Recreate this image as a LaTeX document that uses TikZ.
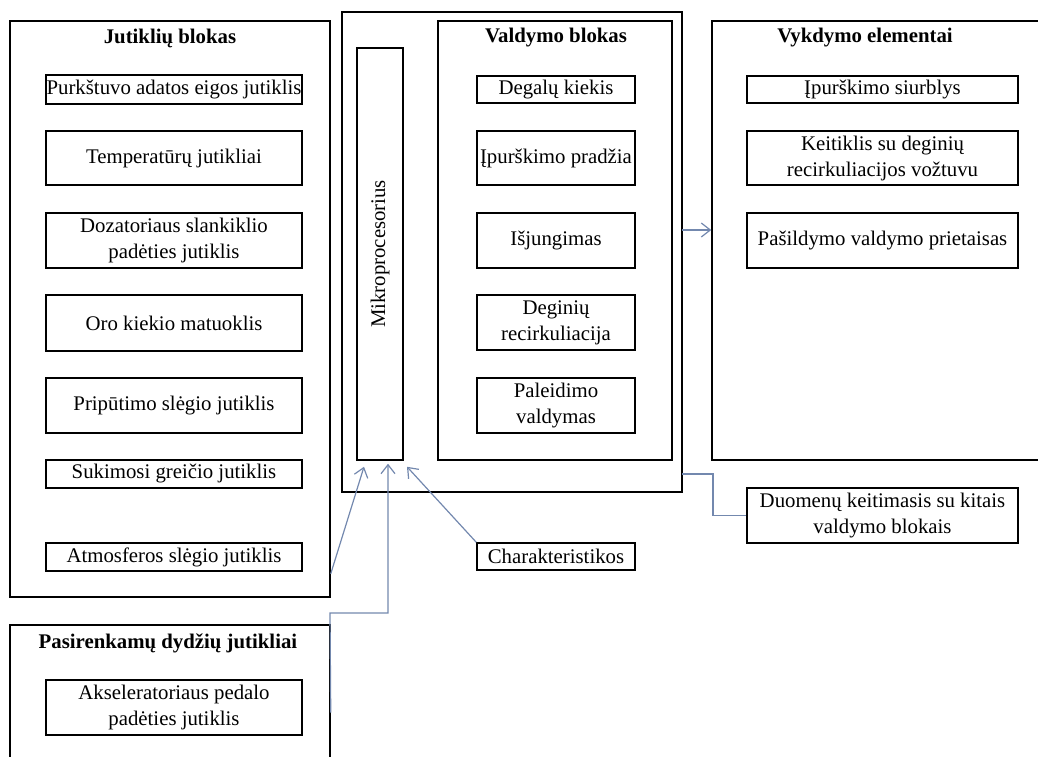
\documentclass[tikz,border=0pt]{standalone}
\usepackage{fontspec}
\setmainfont{Liberation Serif}
\usepackage{graphicx}
\usepackage{tikz}
\usetikzlibrary{arrows.meta, positioning, calc}
\definecolor{ryssys}{HTML}{7388AE}
\newcommand{\tekstas}{\fontsize{20.8}{26}\selectfont}

\tikzset{
  blokas/.style={draw, line width=1.5pt, inner sep=0pt},
  elem/.style={draw, line width=1.5pt, inner sep=0pt, align=center, font=\tekstas},
  antraste/.style={font=\tekstas\bfseries, inner sep=0pt},
  rodykle/.style={ryssys, line width=1.2pt, -{Straight Barb[length=9pt,width=14pt]}},
  jungtis/.style={ryssys, line width=1.2pt}
}

\begin{document}
\begin{tikzpicture}[x=1pt, y=-1pt]
  \useasboundingbox (0,0) rectangle (1038,757);
  \clip (0,0) rectangle (1038,757);
  % Jutikliu blokas
  \node[blokas, minimum width=320pt, minimum height=576pt] (jutikliai) at (170,309) {};
  \node[antraste] (jutikliai-t) at (170,38) {Jutiklių blokas};
  \foreach \n/\y/\h/\t in {1/89.5/29/Purkštuvo adatos eigos jutiklis,
      2/158/54/Temperatūrų jutikliai,
      3/240.5/55/{Dozatoriaus slankiklio\\padėties jutiklis},
      4/323/56/Oro kiekio matuoklis,
      5/405.5/55/Pripūtimo slėgio jutiklis,
      6/474/28/Sukimosi greičio jutiklis,
      7/557/28/Atmosferos slėgio jutiklis}
    \node[elem, minimum width=256pt, minimum height=\h pt] (j\n) at (174,\y) {\t};

  % Pasirenkamu dydziu jutikliai
  \node[blokas, minimum width=320pt, minimum height=175pt] (pasirenkami) at (170,712.5) {};
  \node[antraste] (pasirenkami-t) at (168,643) {Pasirenkamų dydžių jutikliai};
  \node[elem, minimum width=256pt, minimum height=55pt] (akseleratorius) at (174,707.5)
    {Akseleratoriaus pedalo\\padėties jutiklis};

  % Vidurinis blokas
  \node[blokas, minimum width=340pt, minimum height=480pt] (vidurys) at (512,252) {};
  \node[elem, minimum width=46pt, minimum height=412pt] (mikro) at (380,254)
    {\rotatebox{90}{Mikroprocesorius}};
  \node[blokas, minimum width=234pt, minimum height=439pt] (valdymas) at (555,240.5) {};
  \node[antraste] (valdymas-t) at (556,38) {Valdymo blokas};
  \foreach \n/\y/\h/\t in {1/89.5/27/Degalų kiekis,
      2/158/54/Įpurškimo pradžia,
      3/240.5/55/Išjungimas,
      4/322.5/55/{Deginių\\recirkuliacija},
      5/405.5/55/{Paleidimo\\valdymas}}
    \node[elem, minimum width=158pt, minimum height=\h pt] (v\n) at (556,\y) {\t};
  \node[elem, minimum width=158pt, minimum height=27pt] (charakteristikos) at (556,556.5)
    {Charakteristikos};

  % Vykdymo elementai
  \node[blokas, minimum width=340pt, minimum height=439pt] (vykdymas) at (882,240.5) {};
  \node[antraste] (vykdymas-t) at (865,38) {Vykdymo elementai};
  \foreach \n/\y/\h/\t in {1/89.5/27/Įpurškimo siurblys,
      2/158/54/{Keitiklis su deginių\\recirkuliacijos vožtuvu},
      3/240.5/55/Pašildymo valdymo prietaisas}
    \node[elem, minimum width=271pt, minimum height=\h pt] (e\n) at (882.5,\y) {\t};
  \node[elem, minimum width=271pt, minimum height=55pt] (duomenys) at (882.5,515.5)
    {Duomenų keitimasis su kitais\\valdymo blokais};

  % Jungtys
  \coordinate (isejimas) at (682,230);
  \coordinate (mainai) at (682,474);
  \draw[rodykle] (isejimas) -- (isejimas -| vykdymas.west);
  \draw[jungtis] (mainai) -- ++(31,0) |- (duomenys.west);
  \draw[rodykle] ([yshift=24pt]jutikliai.south east) -- ([xshift=-16pt,yshift=-6pt]mikro.south);
  \draw[rodykle] (pasirenkami.east) -- (330,613) -- (388,613) -- ([xshift=8pt,yshift=-3pt]mikro.south);
  \draw[rodykle] (charakteristikos.north west) -- ([xshift=27pt,yshift=-6pt]mikro.south);
\end{tikzpicture}
\end{document}
